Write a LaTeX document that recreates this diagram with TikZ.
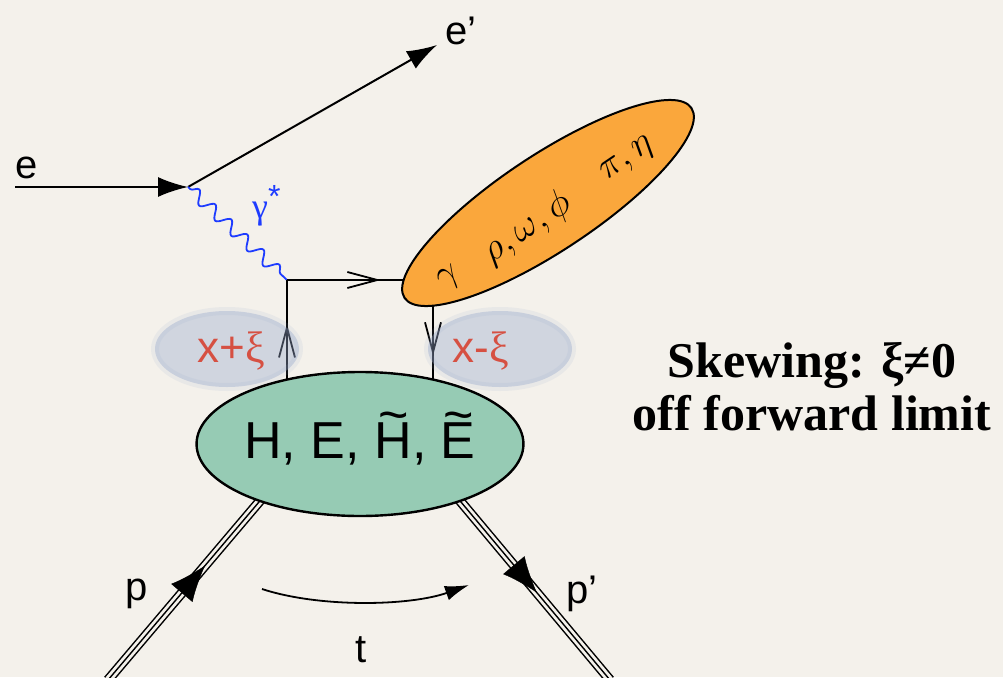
\RequirePackage{fix-cm}
\documentclass[tikz,border=0pt]{standalone}
\usepackage{fontspec}
\setmainfont{Liberation Sans}
\newfontfamily\serifbf{Liberation Serif}
\usetikzlibrary{arrows.meta,decorations.pathmorphing,decorations.markings,shapes.geometric}
\definecolor{bgc}{RGB}{244,241,235}
\definecolor{mesonc}{RGB}{250,167,60}
\definecolor{blobc}{RGB}{150,203,180}
\definecolor{xic}{RGB}{150,168,205}
\definecolor{redc}{RGB}{214,80,66}
\definecolor{photonc}{RGB}{30,60,255}
\newcommand\tcap[1]{\leavevmode\hbox{\ooalign{#1\cr\hidewidth\raisebox{0.5em}{\char"007E}\hidewidth\cr}}}
\tikzset{
  fermion/.style={line width=2pt, draw=black},
  bigtip/.style={-{Latex[length=30pt,width=20pt]}},
  quark/.style={line width=1.8pt, draw=black},
  photon/.style={line width=1.8pt, draw=photonc, decorate,
     decoration={snake, segment length=22pt, amplitude=6pt, pre length=3pt, post length=3pt}},
  proton/.style={line width=10pt, draw=black,
     postaction={draw=bgc, line width=7pt},
     postaction={draw=black, line width=1.4pt}},
  lbl/.style={font=\fontsize{40}{48}\selectfont, inner sep=0pt},
  xilbl/.style={font=\fontsize{44}{50}\selectfont, text=redc, inner sep=0pt, anchor=base},
  greek/.style={font=\fontsize{38}{44}\selectfont, inner sep=0pt, rotate=34},
  xiblob/.style={ellipse, fill=xic, fill opacity=0.38, draw=xic, draw opacity=0.12, line width=8pt, inner sep=0pt},
}
\begin{document}
\begin{tikzpicture}[x=1pt,y=-1pt]
\useasboundingbox (0,0) rectangle (1003,677);
\fill[bgc] (0,0) rectangle (1003,677);

% coordinates
\coordinate (ein) at (15,187);
\coordinate (vtx) at (188,187);
\coordinate (eout) at (437,45);
\coordinate (qv) at (287,280);
\coordinate (qh) at (425,280);
\coordinate (qR) at (433,300);
\coordinate (bL) at (287,390);
\coordinate (bR) at (433,390);
\coordinate (pin) at (108,680);
\coordinate (pout) at (610,680);
\coordinate (tA) at (262,589);
\coordinate (tB) at (469,585);

% electron lines
\draw[fermion, bigtip] (ein) -- (vtx);
\draw[fermion, bigtip] (vtx) -- (eout);
\node[lbl, anchor=base] (e) at (27,178) {e};
\node[lbl, anchor=base west] (ep) at (445,45) {e’};

% photon
\draw[photon] (vtx) -- (qv);
\node[font=\fontsize{36}{40}\selectfont, text=photonc, inner sep=0pt, anchor=base west] (gs) at (252,218) {{\serifbf γ}\raisebox{0.3em}{\fontsize{32}{36}\selectfont *}};

% quark lines
\draw[quark, decoration={markings, mark=at position 0.68 with {\arrow{Straight Barb[length=30pt,width=16pt,line width=1.8pt]}}}, postaction={decorate}] (qv) -- (qh);
\draw[quark, decoration={markings, mark=at position 0.6 with {\arrow{Straight Barb[length=30pt,width=16pt,line width=1.8pt]}}}, postaction={decorate}] (bL) -- (qv);
\draw[quark, decoration={markings, mark=at position 0.62 with {\arrow{Straight Barb[length=30pt,width=16pt,line width=1.8pt]}}}, postaction={decorate}] (qR) -- (bR);

% x +- xi blobs
\node[xiblob, minimum width=144pt, minimum height=76pt] (xl) at (227,349) {};
\node[xiblob, minimum width=144pt, minimum height=76pt] (xr) at (500,349) {};
\node[xilbl] (xlt) at (231,362) {x+{\serifbf ξ}};
\node[xilbl] (xrt) at (481,362) {x-{\serifbf ξ}};

% meson ellipse
\node[ellipse, draw=black, line width=2pt, fill=mesonc, rotate=33.5,
      minimum width=344pt, minimum height=96pt, inner sep=0pt] (meson) at (548,203) {};
\node[greek] (g1) at (450,279) {$\gamma$};
\node[greek] (g2) at (527,228) {$\rho,\omega,\phi$};
\node[greek] (g3) at (628,160) {$\pi,\eta$};

% proton lines
\node[ellipse, minimum width=296pt, minimum height=144pt, inner sep=0pt] (blobpos) at (360,444) {};
\draw[proton] (pin) -- (blobpos.209);
\draw[proton] (blobpos.331) -- (pout);
\path[decoration={markings, mark=at position 0.63 with {\arrow{Latex[length=36pt,width=28pt]}}}, decorate] (pin) -- (blobpos.209);
\path[decoration={markings, mark=at position 0.52 with {\arrow{Latex[length=36pt,width=28pt]}}}, decorate] (blobpos.331) -- (pout);

% GPD blob
\node[ellipse, draw=black, line width=2.4pt, fill=blobc, minimum width=296pt, minimum height=144pt, inner sep=0pt,
      font=\fontsize{52}{60}\selectfont] (blob) at (360,444)
      {H, E, \tcap{H}, \tcap{E}};

% t arrow
\draw[line width=1.8pt, -{Latex[length=24pt,width=15pt]}] (tA) .. controls (320,608) and (410,606) .. (tB);

\node[lbl, anchor=base] (p) at (137,600) {p};
\node[lbl, anchor=base] (pp) at (582,603) {p’};
\node[lbl, anchor=base] (t) at (361,662) {t};

% right text
\node[font=\serifbf\bfseries\fontsize{50}{58}\selectfont, anchor=base, inner sep=0pt] (sk) at (812,377) {Skewing: ξ≠0};
\node[font=\serifbf\bfseries\fontsize{50}{58}\selectfont, anchor=base, inner sep=0pt] (off) at (812,430) {off forward limit};
\end{tikzpicture}
\end{document}
